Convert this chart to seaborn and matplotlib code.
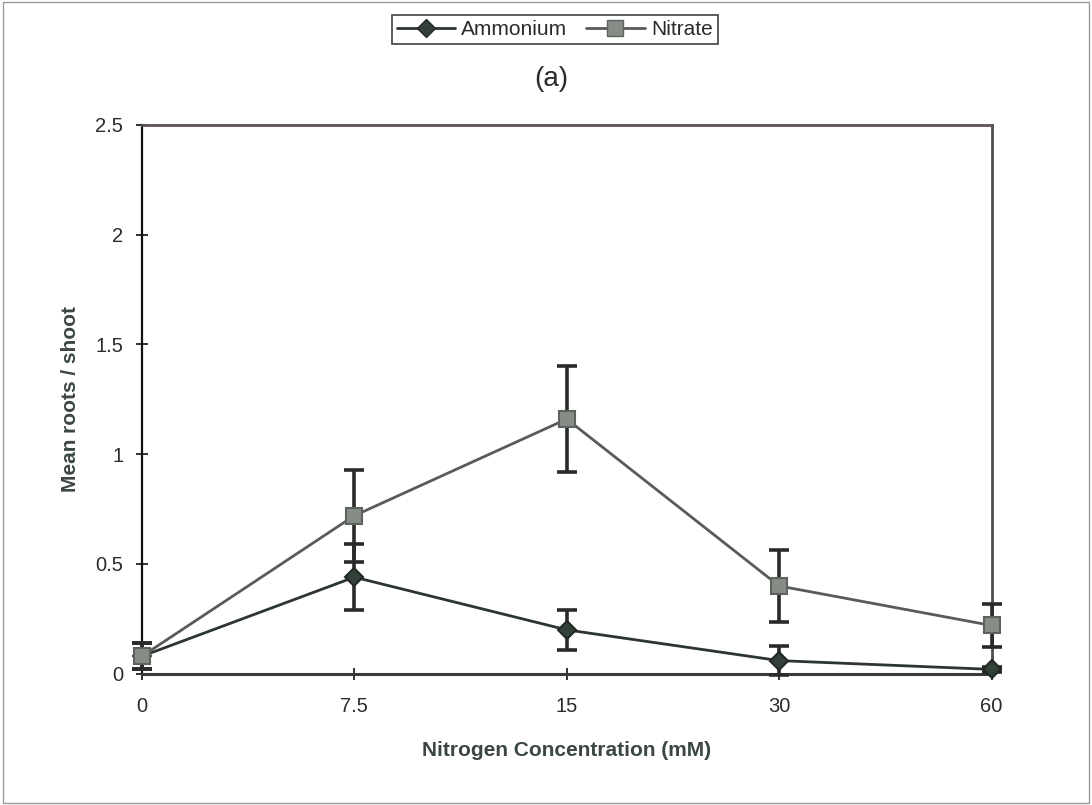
import numpy as np
import pandas as pd
import matplotlib
matplotlib.use("Agg")
import matplotlib.pyplot as plt
import seaborn as sns
from matplotlib.patches import Rectangle
from matplotlib.lines import Line2D

# ---------------- data ----------------
concentrations = ["0", "7.5", "15", "30", "60"]
series_names = ["Ammonium", "Nitrate"]
ammonium = [0.08, 0.44, 0.20, 0.06, 0.02]
ammonium_err = [0.06, 0.15, 0.09, 0.065, 0.01]
nitrate = [0.08, 0.72, 1.16, 0.40, 0.22]
nitrate_err = [0.06, 0.21, 0.24, 0.165, 0.10]
y_ticks = [0, 0.5, 1, 1.5, 2, 2.5]
y_ticklabels = ["0", "0.5", "1", "1.5", "2", "2.5"]
title_text = "(a)"
x_label = "Nitrogen Concentration (mM)"
y_label = "Mean roots / shoot"

# ---------------- style ----------------
sns.set_theme(style="white")
plt.rcParams["font.family"] = ["Liberation Sans", "DejaVu Sans"]

amm_line = "#2c352f"
amm_face = "#34413a"
nit_line = "#5a5a5a"
nit_face = "#868c86"
err_col = "#2a2a2a"
text_col = "#2b2b2b"
label_col = "#3b4741"

df = pd.DataFrame({
    "conc": concentrations * 2,
    "value": ammonium + nitrate,
    "series": [series_names[0]] * len(concentrations) + [series_names[1]] * len(concentrations),
})

fig = plt.figure(figsize=(10.92, 8.05), dpi=100)
fig.patch.set_facecolor("white")
ax = fig.add_axes([0.130, 0.163, 0.778, 0.682])

sns.pointplot(
    data=df, x="conc", y="value", hue="series",
    order=concentrations, hue_order=series_names,
    palette={series_names[0]: amm_line, series_names[1]: nit_line},
    markers=["D", "s"], linestyles=["-", "-"],
    errorbar=None, ax=ax, legend=False,
    markersize=9, linewidth=2,
)

# style the point lines
face_cols = [amm_face, nit_face]
edge_cols = ["#222822", "#5e635e"]
msizes = [9.5, 11.5]
for i, ln in enumerate(ax.lines[:2]):
    ln.set_markerfacecolor(face_cols[i])
    ln.set_markeredgecolor(edge_cols[i])
    ln.set_markersize(msizes[i])
    ln.set_clip_on(False)
    ln.set_zorder(4 + i)

xpos = np.arange(len(concentrations))
for vals, errs in [(ammonium, ammonium_err), (nitrate, nitrate_err)]:
    eb = ax.errorbar(xpos, vals, yerr=errs, fmt="none", ecolor=err_col,
                     elinewidth=2.6, capsize=7, capthick=2.6, zorder=3)
    for child in eb.get_children():
        child.set_clip_on(False)

ax.set_xlim(0, len(concentrations) - 1)
ax.set_ylim(0, 2.5)
ax.set_yticks(y_ticks)
ax.set_yticklabels(y_ticklabels)
ax.set_xticks(xpos)
ax.set_xticklabels(concentrations)

ax.tick_params(axis="both", which="major", direction="inout", length=9,
               width=1.3, color="#222222", labelsize=14.5, labelcolor=text_col)
ax.tick_params(axis="x", pad=12)
ax.tick_params(axis="y", pad=9, left=True)
ax.tick_params(axis="x", bottom=True)

for side in ["left", "bottom", "top", "right"]:
    ax.spines[side].set_visible(True)
ax.spines["left"].set_color("#111111")
ax.spines["left"].set_linewidth(1.6)
ax.spines["bottom"].set_color("#3a3a3a")
ax.spines["bottom"].set_linewidth(2.2)
ax.spines["top"].set_color("#5e5252")
ax.spines["top"].set_linewidth(2.0)
ax.spines["right"].set_color("#4e4e4e")
ax.spines["right"].set_linewidth(2.0)
ax.grid(False)

ax.set_xlabel(x_label, fontsize=15, fontweight="bold", color=label_col, labelpad=18)
ax.set_ylabel(y_label, fontsize=15, fontweight="bold", color=label_col, labelpad=11)

fig.text(0.505, 0.902, title_text, ha="center", va="center", fontsize=20, color=text_col)

handles = [
    Line2D([0], [0], color=amm_line, lw=2, marker="D", markersize=9,
           markerfacecolor=amm_face, markeredgecolor="#222822"),
    Line2D([0], [0], color=nit_line, lw=2, marker="s", markersize=11,
           markerfacecolor=nit_face, markeredgecolor="#5e635e"),
]
leg = fig.legend(handles, series_names, loc="center", bbox_to_anchor=(0.508, 0.963),
                 ncol=2, frameon=True, fancybox=False, fontsize=15,
                 handlelength=2.8, handletextpad=0.3, columnspacing=0.9,
                 borderpad=0.25, borderaxespad=0.0)
leg.get_frame().set_edgecolor("#111111")
leg.get_frame().set_linewidth(1.2)
for t in leg.get_texts():
    t.set_color(text_col)

fig.patches.append(Rectangle((0.003, 0.003), 0.994, 0.994, transform=fig.transFigure,
                             fill=False, edgecolor="#9a9a9a", linewidth=1.0))

fig.savefig("out.png", dpi=100, facecolor="white")
